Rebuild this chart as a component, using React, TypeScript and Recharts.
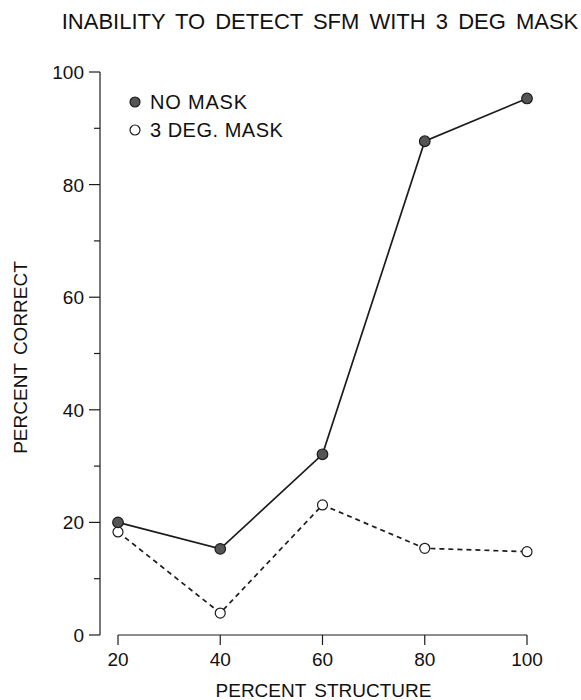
import React from 'react';
import { LineChart, Line, XAxis, YAxis, ReferenceLine, Legend, Label } from 'recharts';

const FONT = '"Liberation Sans", Arial, Helvetica, sans-serif';

const chartTitle = 'INABILITY TO DETECT SFM WITH 3 DEG MASK';
const xTitle = 'PERCENT STRUCTURE';
const yTitle = 'PERCENT CORRECT';

const percentStructure = [20, 40, 60, 80, 100];
const noMaskValues = [20, 15.3, 32.1, 87.7, 95.3];
const maskValues = [18.3, 3.9, 23.1, 15.4, 14.8];

const xTicks = [20, 40, 60, 80, 100];
const yTicks = [0, 10, 20, 30, 40, 50, 60, 70, 80, 90, 100];
const yLabelTicks = [0, 20, 40, 60, 80, 100];

const seriesNames = { noMask: 'NO MASK', mask: '3 DEG. MASK' };

const data = percentStructure.map((x, i) => ({
  x,
  noMask: noMaskValues[i],
  mask: maskValues[i],
}));

const INK = '#1c1c1c';

const YTick = (props: any) => {
  const { x, y, payload } = props;
  const major = yLabelTicks.includes(payload.value);
  return (
    <g>
      <line x1={x - (major ? 11 : 6)} x2={x} y1={y} y2={y} stroke={INK} strokeWidth={1.2} />
      {major && (
        <text x={x - 16} y={y} dy={7} textAnchor="end" fontSize={19} fontFamily={FONT} fill="#111">
          {payload.value}
        </text>
      )}
    </g>
  );
};

const XTick = (props: any) => {
  const { x, y, payload } = props;
  return (
    <g>
      <line x1={x} x2={x} y1={y} y2={y + 10} stroke={INK} strokeWidth={1.2} />
      <text x={x} y={y + 24} dy={7} textAnchor="middle" fontSize={19} fontFamily={FONT} fill="#111">
        {payload.value}
      </text>
    </g>
  );
};

const LegendContent = () => (
  <svg width={300} height={150} style={{ display: 'block' }}>
    <circle cx={135} cy={102} r={5} fill="#555" stroke={INK} strokeWidth={1.2} />
    <text x={150} y={102} dy={7} fontSize={20} letterSpacing={0.8} fontFamily={FONT} fill="#111">
      {seriesNames.noMask}
    </text>
    <circle cx={135} cy={130} r={5} fill="#fff" stroke={INK} strokeWidth={1.2} />
    <text x={150} y={130} dy={7} fontSize={20} letterSpacing={0.5} fontFamily={FONT} fill="#111">
      {seriesNames.mask}
    </text>
  </svg>
);

export default function App() {
  return (
    <div style={{ position: 'absolute', left: 0, top: 0, width: 581, height: 700, background: '#fff' }}>
      <div
        style={{
          position: 'absolute',
          left: 0,
          top: 8,
          width: 640,
          textAlign: 'center',
          fontFamily: FONT,
          fontSize: 22,
          lineHeight: '28px',
          color: '#111',
          wordSpacing: 4,
          whiteSpace: 'nowrap',
        }}
      >
        {chartTitle}
      </div>
      <LineChart
        width={581}
        height={700}
        data={data}
        margin={{ top: 72, right: 44, bottom: 0, left: 0 }}
      >
        <XAxis
          dataKey="x"
          type="number"
          domain={[20, 100]}
          ticks={xTicks}
          interval={0}
          axisLine={false}
          tickLine={false}
          tickSize={0}
          tickMargin={0}
          tick={<XTick />}
          height={65}
          padding={{ left: 18, right: 10 }}
        >
          <Label
            content={(p: any) => {
              const vb = p.viewBox;
              return (
                <text
                  x={vb.x + vb.width / 2 + 5}
                  y={697}
                  textAnchor="middle"
                  fontSize={19}
                  fontFamily={FONT}
                  fill="#111"
                  wordSpacing={3}
                >
                  {xTitle}
                </text>
              );
            }}
          />
        </XAxis>
        <YAxis
          type="number"
          domain={[0, 100]}
          ticks={yTicks}
          interval={0}
          width={100}
          axisLine={{ stroke: INK, strokeWidth: 1.2 }}
          tickLine={false}
          tickSize={0}
          tickMargin={0}
          tick={<YTick />}
        >
          <Label
            content={(p: any) => {
              const vb = p.viewBox;
              const cy = vb.y + vb.height / 2 + 4;
              return (
                <text
                  x={20}
                  y={cy}
                  dy={7}
                  transform={`rotate(-90 20 ${cy})`}
                  textAnchor="middle"
                  fontSize={19}
                  fontFamily={FONT}
                  fill="#111"
                  wordSpacing={3}
                >
                  {yTitle}
                </text>
              );
            }}
          />
        </YAxis>
        <ReferenceLine
          segment={[
            { x: 20, y: 0 },
            { x: 100, y: 0 },
          ]}
          stroke={INK}
          strokeWidth={1.2}
        />
        <Legend
          layout="vertical"
          align="center"
          verticalAlign="middle"
          content={<LegendContent />}
          wrapperStyle={{ position: 'absolute', left: 0, top: 0, width: 300, height: 150 }}
        />
        <Line
          dataKey="mask"
          name={seriesNames.mask}
          stroke={INK}
          strokeWidth={1.7}
          strokeDasharray="5 4"
          dot={{ r: 5, fill: '#fff', stroke: INK, strokeWidth: 1.2, strokeDasharray: '0' }}
          isAnimationActive={false}
        />
        <Line
          dataKey="noMask"
          name={seriesNames.noMask}
          stroke={INK}
          strokeWidth={1.7}
          dot={{ r: 5.3, fill: '#555', stroke: INK, strokeWidth: 1.2 }}
          isAnimationActive={false}
        />
      </LineChart>
    </div>
  );
}
